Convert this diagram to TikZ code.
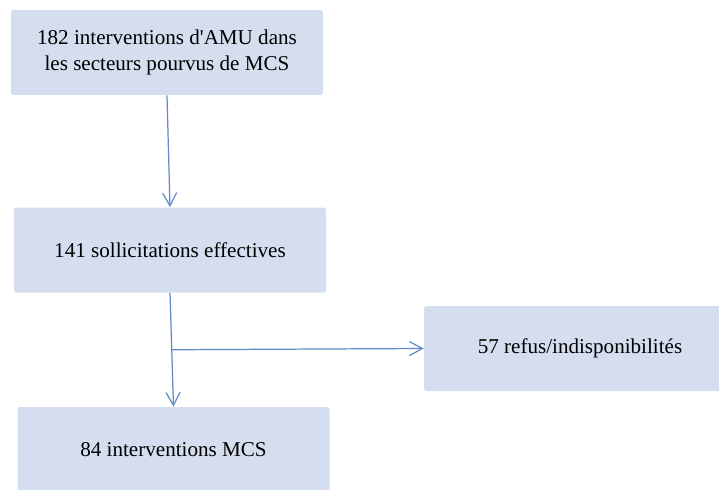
\documentclass[tikz,border=0pt]{standalone}
\usepackage{fontspec}
\setmainfont{Liberation Serif}
\usetikzlibrary{arrows.meta,calc}
\definecolor{boxblue}{RGB}{212,222,239}
\definecolor{linkblue}{RGB}{98,138,200}
\begin{document}
\begin{tikzpicture}[font=\fontsize{12}{14.5}\selectfont,
  box/.style={fill=boxblue, rounded corners=1pt, minimum width=6.24cm, minimum height=1.7cm, align=center, inner sep=2pt},
  flow/.style={draw=linkblue, line width=0.7pt, -{Straight Barb[length=2.6mm,width=2.8mm,line width=0.7pt]}}]
  \useasboundingbox (0,0) rectangle (14.38,9.78);
  \clip (0,0) rectangle (14.38,9.78);
  \node[box] (amu) at (3.34,8.73) {182 interventions d\textquotesingle AMU dans\\les secteurs pourvus de MCS};
  \node[box] (sollic) at (3.40,4.78) {141 sollicitations effectives};
  \node[box] (refus) at (11.60,2.81) {57 refus/indisponibilités};
  \node[box] (mcs) at (3.47,0.79) {84 interventions MCS};
  \draw[flow] (amu.south) -- (sollic.north);
  \draw[flow] (sollic.south) -- (mcs.north);
  \draw[flow] ($(sollic.south)!0.5!(mcs.north)$) -- (refus.west);
\end{tikzpicture}
\end{document}
